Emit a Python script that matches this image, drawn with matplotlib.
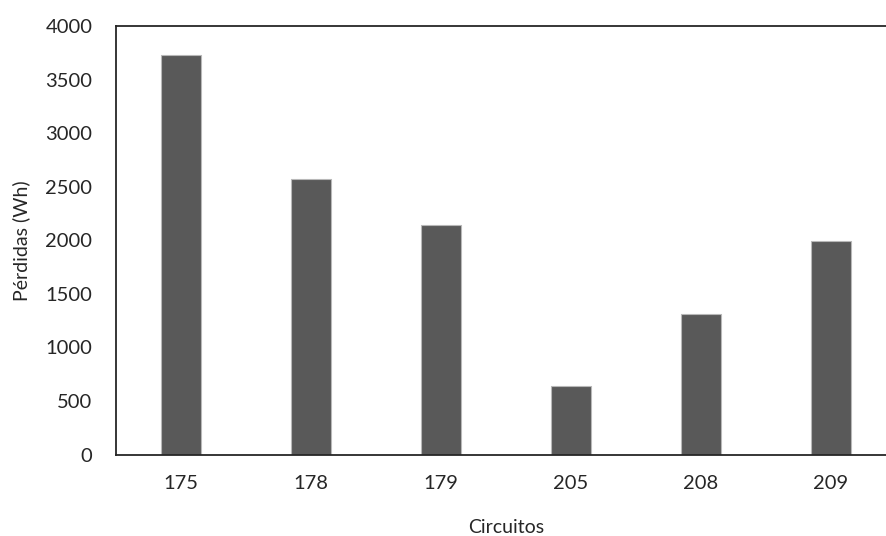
import matplotlib
matplotlib.use("Agg")
import matplotlib.pyplot as plt

circuitos = ["175", "178", "179", "205", "208", "209"]
perdidas_wh = [3725, 2570, 2140, 640, 1315, 1990]
y_ticks = [0, 500, 1000, 1500, 2000, 2500, 3000, 3500, 4000]

plt.rcParams["font.family"] = ["Lato", "DejaVu Sans"]

fig = plt.figure(figsize=(8.86, 5.36), dpi=100)
W, H = 886, 536
left, right, top, bottom = 116, 896, 26, 454.5
ax = fig.add_axes([left / W, 1 - bottom / H, (right - left) / W, (bottom - top) / H])

x = range(len(circuitos))
ax.bar(x, perdidas_wh, width=0.31, color="#595959", edgecolor="#b8b8b8", linewidth=0.8, zorder=2)

ax.set_xlim(-0.5, len(circuitos) - 0.5)
ax.set_ylim(0, 4000)
ax.set_yticks(y_ticks)
ax.set_xticks(list(x))
ax.set_xticklabels(circuitos)

for side in ["left", "top", "bottom"]:
    ax.spines[side].set_color("#262626")
    ax.spines[side].set_linewidth(1.3)
ax.spines["right"].set_visible(False)

ax.tick_params(axis="both", length=0, labelsize=14.5, colors="#262626")
ax.tick_params(axis="y", pad=17)
ax.tick_params(axis="x", pad=15)

ax.set_ylabel("Pérdidas (Wh)", fontsize=14, color="#262626", labelpad=11)
ax.set_xlabel("Circuitos", fontsize=14, color="#262626", labelpad=19)

fig.savefig("out.png", dpi=100, facecolor="white")
